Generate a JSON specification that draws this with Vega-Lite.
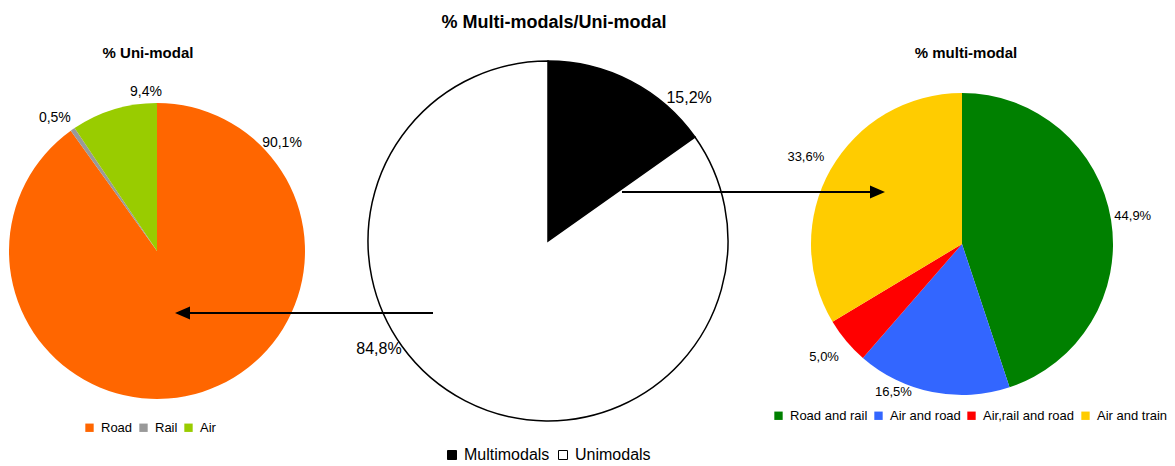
{
  "$schema": "https://vega.github.io/schema/vega-lite/v6.json",
  "padding": {"left": 0, "top": 14, "right": 0, "bottom": 0},
  "bounds": "flush",
  "spacing": 0,
  "config": {
    "font": "Liberation Sans",
    "view": {"stroke": null},
    "locale": {"number": {"decimal": ",", "thousands": ".", "grouping": [3], "currency": ["", " €"]}},
    "legend": {"padding": 0, "labelColor": "#000000", "labelFont": "Liberation Sans", "symbolType": "square", "symbolStrokeWidth": 0, "labelOffset": 5, "columnPadding": 4}
  },
  "datasets": {
    "uni": [
      {"mode": "Road", "share": 0.901, "rank": 1},
      {"mode": "Rail", "share": 0.005, "rank": 2},
      {"mode": "Air", "share": 0.094, "rank": 3}
    ],
    "both": [
      {"mode": "Multimodals", "share": 0.152, "rank": 1},
      {"mode": "Unimodals", "share": 0.848, "rank": 2}
    ],
    "multi": [
      {"mode": "Road and rail", "share": 0.449, "rank": 1},
      {"mode": "Air and road", "share": 0.165, "rank": 2},
      {"mode": "Air,rail and road", "share": 0.05, "rank": 3},
      {"mode": "Air and train", "share": 0.336, "rank": 4}
    ]
  },
  "resolve": {"scale": {"color": "independent", "theta": "independent"}, "legend": {"color": "independent"}},
  "hconcat": [
    {
      "width": 314,
      "height": 380,
      "data": {"name": "uni"},
      "title": {"text": "% Uni-modal", "frame": "group", "anchor": "middle", "dx": -9, "offset": -12, "baseline": "alphabetic", "fontSize": 15, "fontWeight": "bold", "color": "#000000"},
      "layer": [
        {
          "mark": {"type": "arc", "radius": 148},
          "encoding": {
            "theta": {"field": "share", "type": "quantitative", "stack": true},
            "order": {"field": "rank", "type": "quantitative"},
            "color": {
              "field": "mode", "type": "nominal",
              "scale": {"domain": ["Road", "Rail", "Air"], "range": ["#FF6600", "#999999", "#99CC00"]},
              "legend": {"orient": "none", "legendX": 83, "legendY": 360, "direction": "horizontal", "title": null, "labelFontSize": 13, "symbolSize": 70}
            }
          }
        },
        {
          "mark": {"type": "text", "radius": 167, "dx": -7, "dy": 4, "fontSize": 14, "color": "#000000"},
          "encoding": {
            "theta": {"field": "share", "type": "quantitative", "stack": true},
            "order": {"field": "rank", "type": "quantitative"},
            "detail": {"field": "mode", "type": "nominal"},
            "text": {"condition": {"test": "datum.mode === 'Rail'", "field": "share", "type": "quantitative", "format": ".1%"}, "value": ""}
          }
        },
        {
          "transform": [
            {"stack": "share", "groupby": [], "sort": [{"field": "rank", "order": "ascending"}], "as": ["start", "end"]},
            {"filter": "datum.mode === 'Road'"}
          ],
          "mark": {"type": "text", "radius": 167, "dx": 125, "dy": 59, "fontSize": 14, "color": "#000000"},
          "encoding": {
            "theta": {"field": "start", "type": "quantitative", "stack": null},
            "text": {"field": "share", "type": "quantitative", "format": ".1%"}
          }
        },
        {
          "transform": [
            {"stack": "share", "groupby": [], "sort": [{"field": "rank", "order": "ascending"}], "as": ["start", "end"]},
            {"filter": "datum.mode === 'Air'"}
          ],
          "mark": {"type": "text", "radius": 167, "dx": -11, "dy": 8, "fontSize": 14, "color": "#000000"},
          "encoding": {
            "theta": {"field": "end", "type": "quantitative", "stack": null},
            "text": {"field": "share", "type": "quantitative", "format": ".1%"}
          }
        }
      ]
    },
    {
      "width": 468,
      "height": 360,
      "data": {"name": "both"},
      "title": {"text": "% Multi-modals/Uni-modal", "frame": "group", "anchor": "middle", "dx": 6, "offset": 12, "baseline": "alphabetic", "fontSize": 18, "fontWeight": "bold", "color": "#000000"},
      "layer": [
        {
          "mark": {"type": "arc", "radius": 180, "stroke": "#000000", "strokeWidth": 1.5},
          "encoding": {
            "theta": {"field": "share", "type": "quantitative", "stack": true},
            "order": {"field": "rank", "type": "quantitative"},
            "color": {
              "field": "mode", "type": "nominal",
              "scale": {"domain": ["Multimodals", "Unimodals"], "range": ["#000000", "#FFFFFF"]},
              "legend": {"orient": "none", "legendX": 130, "legendY": 386, "direction": "horizontal", "title": null, "labelFontSize": 16, "symbolSize": 81, "symbolStrokeColor": "#000000", "symbolStrokeWidth": 1, "labelOffset": 4, "columnPadding": 5}
            }
          }
        },
        {
          "transform": [
            {"stack": "share", "groupby": [], "sort": [{"field": "rank", "order": "ascending"}], "as": ["start", "end"]},
            {"filter": "datum.mode === 'Multimodals'"}
          ],
          "mark": {"type": "text", "radius": 201, "dx": -23, "dy": -27, "fontSize": 16, "color": "#000000"},
          "encoding": {
            "theta": {"field": "end", "type": "quantitative", "stack": null},
            "text": {"field": "share", "type": "quantitative", "format": ".1%"}
          }
        },
        {
          "transform": [
            {"stack": "share", "groupby": [], "sort": [{"field": "rank", "order": "ascending"}], "as": ["start", "end"]},
            {"filter": "datum.mode === 'Unimodals'"}
          ],
          "mark": {"type": "text", "radius": 201, "dx": -169, "dy": 309, "fontSize": 16, "color": "#000000"},
          "encoding": {
            "theta": {"field": "end", "type": "quantitative", "stack": null},
            "text": {"field": "share", "type": "quantitative", "format": ".1%"}
          }
        },
        {
          "data": {"values": [{"arrow": "to uni-modal"}]},
          "mark": {"type": "rule", "color": "#000000", "strokeWidth": 2},
          "encoding": {"x": {"value": 119}, "x2": {"value": -126}, "y": {"value": 252}}
        },
        {
          "data": {"values": [{"arrow": "to uni-modal"}]},
          "mark": {"type": "point", "shape": "M -1 0 L 1 -0.87 L 1 0.87 Z", "filled": true, "color": "#000000", "opacity": 1, "size": 225, "strokeWidth": 0},
          "encoding": {"x": {"value": -131.5}, "y": {"value": 252}}
        }
      ]
    },
    {
      "width": 360,
      "height": 366,
      "data": {"name": "multi"},
      "title": {"text": "% multi-modal", "frame": "group", "anchor": "middle", "dx": 4, "offset": -12, "baseline": "alphabetic", "fontSize": 15, "fontWeight": "bold", "color": "#000000"},
      "layer": [
        {
          "mark": {"type": "arc", "radius": 151},
          "encoding": {
            "theta": {"field": "share", "type": "quantitative", "stack": true},
            "order": {"field": "rank", "type": "quantitative"},
            "color": {
              "field": "mode", "type": "nominal",
              "scale": {"domain": ["Road and rail", "Air and road", "Air,rail and road", "Air and train"], "range": ["#008000", "#3366FF", "#FF0000", "#FFCC00"]},
              "legend": {"orient": "none", "legendX": -10, "legendY": 348, "direction": "horizontal", "title": null, "labelFontSize": 13, "symbolSize": 70}
            }
          }
        },
        {
          "mark": {"type": "text", "radius": 176, "dx": -3, "dy": 0, "fontSize": 13, "color": "#000000"},
          "encoding": {
            "theta": {"field": "share", "type": "quantitative", "stack": true},
            "order": {"field": "rank", "type": "quantitative"},
            "detail": {"field": "mode", "type": "nominal"},
            "text": {"condition": {"test": "datum.mode !== 'Air and road'", "field": "share", "type": "quantitative", "format": ".1%"}, "value": ""}
          }
        },
        {
          "transform": [
            {"stack": "share", "groupby": [], "sort": [{"field": "rank", "order": "ascending"}], "as": ["start", "end"]},
            {"filter": "datum.mode === 'Air and road'"}
          ],
          "mark": {"type": "text", "radius": 176, "dx": 47, "dy": 15, "fontSize": 13, "color": "#000000"},
          "encoding": {
            "theta": {"field": "end", "type": "quantitative", "stack": null},
            "text": {"field": "share", "type": "quantitative", "format": ".1%"}
          }
        },
        {
          "data": {"values": [{"arrow": "to multi-modal"}]},
          "mark": {"type": "rule", "color": "#000000", "strokeWidth": 2},
          "encoding": {"x": {"value": -160}, "x2": {"value": 90}, "y": {"value": 131}}
        },
        {
          "data": {"values": [{"arrow": "to multi-modal"}]},
          "mark": {"type": "point", "shape": "M 1 0 L -1 -0.87 L -1 0.87 Z", "filled": true, "color": "#000000", "opacity": 1, "size": 225, "strokeWidth": 0},
          "encoding": {"x": {"value": 95.5}, "y": {"value": 131}}
        }
      ]
    }
  ]
}
